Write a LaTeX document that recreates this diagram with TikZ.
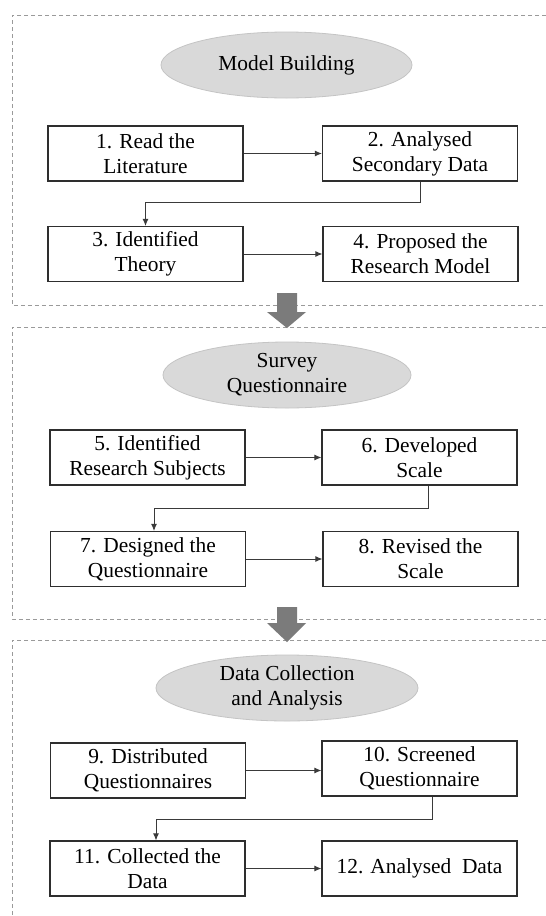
\documentclass[tikz,border=0pt]{standalone}
\usepackage{fontspec}
\setmainfont{Liberation Serif}
\usetikzlibrary{arrows.meta,shapes.geometric,calc}
\definecolor{ellfill}{HTML}{D9D9D9}
\definecolor{ellline}{HTML}{C4C4C4}
\definecolor{boxline}{HTML}{2E2E2E}
\definecolor{connc}{HTML}{3A3A3A}
\definecolor{dashc}{HTML}{9A9A9A}
\definecolor{bigarrow}{HTML}{7B7B7B}
\begin{document}
\begin{tikzpicture}[x=1pt,y=-1pt,
  txt/.style={font=\fontsize{21.4}{25}\selectfont},
  stepbox/.style={txt, draw=boxline, line width=1.2pt, minimum width=195pt, minimum height=55pt, align=center, inner sep=0pt, fill=white},
  phase/.style={txt, ellipse, fill=ellfill, draw=ellline, line width=0.8pt, minimum height=66pt, inner sep=0pt, align=center},
  conn/.style={draw=connc, line width=0.9pt, -{Latex[length=7pt,width=6pt]}},
  sect/.style={draw=dashc, line width=0.8pt, dash pattern=on 4pt off 3pt},
  blockarrow/.style={fill=bigarrow}]
\useasboundingbox (0,0) rectangle (546,916);
\fill[white] (0,0) rectangle (546,916);

% section frames
\draw[sect] (546,15) -- (12,15) -- (12,305) -- (546,305);
\draw[sect] (546,327) -- (12,327) -- (12,619) -- (546,619);
\draw[sect] (546,640) -- (12,640) -- (12,916);

% section 1
\node[phase, minimum width=251pt] (e1) at (286.5,65) {Model Building};
\node[stepbox] (b1) at (145.5,153.5) {1. Read the\\Literature};
\node[stepbox] (b2) at (420,153.5) {2. Analysed\\Secondary Data};
\node[stepbox] (b3) at (145.5,254) {3. Identified\\Theory};
\node[stepbox] (b4) at (420.5,254) {4. Proposed the\\Research Model};
\draw[conn] (b1.east) -- (b1.east -| b2.west);
\draw[conn] (b2.south) -- ++(0,21) -| (b3.north);
\draw[conn] (b3.east) -- (b3.east -| b4.west);

% section 2
\node[phase, minimum width=248pt] (e2) at (287,375) {Survey\\Questionnaire};
\node[stepbox] (b5) at (147.5,457.5) {5. Identified\\Research Subjects};
\node[stepbox] (b6) at (419.5,457.5) {6. Developed\\Scale};
\node[stepbox] (b7) at (148,559) {7. Designed the\\Questionnaire};
\node[stepbox] (b8) at (420.5,559) {8. Revised the\\Scale};
\draw[conn] (b5.east) -- (b5.east -| b6.west);
\draw[conn] ([xshift=9pt]b6.south) -- ++(0,23) -| ([xshift=6pt]b7.north);
\draw[conn] (b7.east) -- (b7.east -| b8.west);

% section 3
\node[phase, minimum width=262pt] (e3) at (287,688) {Data Collection\\and Analysis};
\node[stepbox] (b9) at (148,770.5) {9. Distributed\\Questionnaires};
\node[stepbox] (b10) at (419.5,768.5) {10. Screened\\Questionnaire};
\node[stepbox] (b11) at (147.5,868.5) {11. Collected the\\Data};
\node[stepbox] (b12) at (419.5,868.5) {12. Analysed\ \ Data};
\draw[conn] (b9.east) -- (b9.east -| b10.west);
\draw[conn] ([xshift=12.5pt]b10.south) -- ++(0,23) -| ([xshift=8.5pt]b11.north);
\draw[conn] (b11.east) -- (b11.east -| b12.west);

% block arrows between sections
\fill[blockarrow] (277,293) -- (297,293) -- (297,312) -- (306,312) -- (287,328) -- (267,312) -- (277,312) -- cycle;
\fill[blockarrow] (277,607) -- (297,607) -- (297,623) -- (306,623) -- (287,642) -- (267,623) -- (277,623) -- cycle;
\end{tikzpicture}
\end{document}
